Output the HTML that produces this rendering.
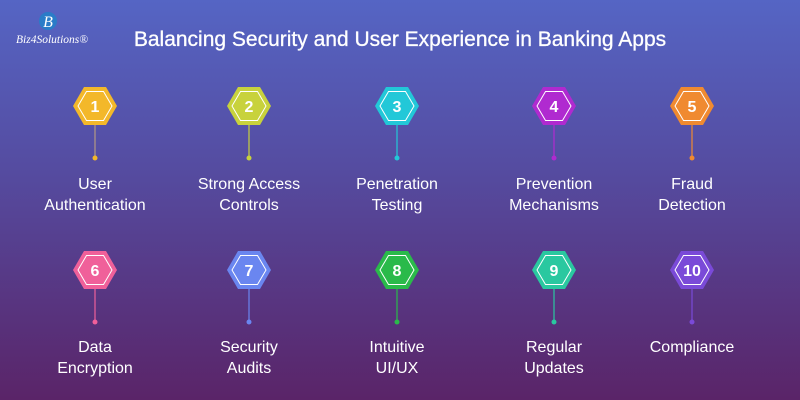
<!DOCTYPE html>
<html><head><meta charset="utf-8"><style>
html,body{margin:0;padding:0;width:800px;height:400px;overflow:hidden}
</style></head><body>
<svg width="800" height="400" viewBox="0 0 800 400" xmlns="http://www.w3.org/2000/svg" font-family="Liberation Sans, sans-serif">
<defs>
<linearGradient id="bg" x1="0" y1="0" x2="0" y2="1">
<stop offset="0" stop-color="#5565c4"/>
<stop offset="0.45" stop-color="#554a9e"/>
<stop offset="1" stop-color="#5a2468"/>
</linearGradient>
<polygon id="hx" points="-22,0 -11,-19 11,-19 22,0 11,19 -11,19"/>
<polygon id="hi" points="-17,0 -8.5,-14.5 8.5,-14.5 17,0 8.5,14.5 -8.5,14.5" fill="none" stroke="#fff" stroke-width="1"/>
</defs>
<rect width="800" height="400" fill="url(#bg)"/>
<circle cx="48" cy="21" r="9" fill="#2a7cc8"/>
<text x="48" y="27" font-size="16" font-style="italic" fill="#fff" text-anchor="middle" font-family="Liberation Serif, serif">B</text>
<text x="52" y="43" font-size="11.5" font-style="italic" fill="#fff" text-anchor="middle" font-family="Liberation Serif, serif">Biz4Solutions®</text>
<text x="400" y="46" font-size="21" fill="#fff" text-anchor="middle" stroke="#fff" stroke-width="0.3">Balancing Security and User Experience in Banking Apps</text>
<g font-size="16" fill="#fff" text-anchor="middle">
<g transform="translate(95,106)"><line x1="0" y1="19" x2="0" y2="52" stroke="#a08a8a" stroke-width="1.5"/><circle cx="0" cy="52" r="2.5" fill="#f3b82a"/><use href="#hx" fill="#f3b82a"/><use href="#hi"/><text y="6" font-size="16" font-weight="bold">1</text></g>
<g transform="translate(249,106)"><line x1="0" y1="19" x2="0" y2="52" stroke="#c8d23c" stroke-width="1.2"/><circle cx="0" cy="52" r="2.5" fill="#c8d23c"/><use href="#hx" fill="#c8d23c"/><use href="#hi"/><text y="6" font-size="16" font-weight="bold">2</text></g>
<g transform="translate(397,106)"><line x1="0" y1="19" x2="0" y2="52" stroke="#22c8d8" stroke-width="1.2"/><circle cx="0" cy="52" r="2.5" fill="#22c8d8"/><use href="#hx" fill="#22c8d8"/><use href="#hi"/><text y="6" font-size="16" font-weight="bold">3</text></g>
<g transform="translate(554,106)"><line x1="0" y1="19" x2="0" y2="52" stroke="#b02ad0" stroke-width="1.2"/><circle cx="0" cy="52" r="2.5" fill="#b02ad0"/><use href="#hx" fill="#b02ad0"/><use href="#hi"/><text y="6" font-size="16" font-weight="bold">4</text></g>
<g transform="translate(692,106)"><line x1="0" y1="19" x2="0" y2="52" stroke="#f08a30" stroke-width="1.2"/><circle cx="0" cy="52" r="2.5" fill="#f08a30"/><use href="#hx" fill="#f08a30"/><use href="#hi"/><text y="6" font-size="16" font-weight="bold">5</text></g>
<text x="95" y="189">User</text><text x="95" y="210">Authentication</text>
<text x="249" y="189">Strong Access</text><text x="249" y="210">Controls</text>
<text x="397" y="189">Penetration</text><text x="397" y="210">Testing</text>
<text x="554" y="189">Prevention</text><text x="554" y="210">Mechanisms</text>
<text x="692" y="189">Fraud</text><text x="692" y="210">Detection</text>
<g transform="translate(95,270)"><line x1="0" y1="19" x2="0" y2="52" stroke="#f0609a" stroke-width="1.2"/><circle cx="0" cy="52" r="2.5" fill="#f0609a"/><use href="#hx" fill="#f0609a"/><use href="#hi"/><text y="6" font-size="16" font-weight="bold">6</text></g>
<g transform="translate(249,270)"><line x1="0" y1="19" x2="0" y2="52" stroke="#6a86f0" stroke-width="1.2"/><circle cx="0" cy="52" r="2.5" fill="#6a86f0"/><use href="#hx" fill="#6a86f0"/><use href="#hi"/><text y="6" font-size="16" font-weight="bold">7</text></g>
<g transform="translate(397,270)"><line x1="0" y1="19" x2="0" y2="52" stroke="#2aba4a" stroke-width="1.2"/><circle cx="0" cy="52" r="2.5" fill="#2aba4a"/><use href="#hx" fill="#2aba4a"/><use href="#hi"/><text y="6" font-size="16" font-weight="bold">8</text></g>
<g transform="translate(554,270)"><line x1="0" y1="19" x2="0" y2="52" stroke="#2ac8a0" stroke-width="1.2"/><circle cx="0" cy="52" r="2.5" fill="#2ac8a0"/><use href="#hx" fill="#2ac8a0"/><use href="#hi"/><text y="6" font-size="16" font-weight="bold">9</text></g>
<g transform="translate(692,270)"><line x1="0" y1="19" x2="0" y2="52" stroke="#7a4ad8" stroke-width="1.2"/><circle cx="0" cy="52" r="2.5" fill="#7a4ad8"/><use href="#hx" fill="#7a4ad8"/><use href="#hi"/><text y="6" font-size="16" font-weight="bold">10</text></g>
<text x="95" y="352">Data</text><text x="95" y="373">Encryption</text>
<text x="249" y="352">Security</text><text x="249" y="373">Audits</text>
<text x="397" y="352">Intuitive</text><text x="397" y="373">UI/UX</text>
<text x="554" y="352">Regular</text><text x="554" y="373">Updates</text>
<text x="692" y="352">Compliance</text>
</g>
</svg>
</body></html>
